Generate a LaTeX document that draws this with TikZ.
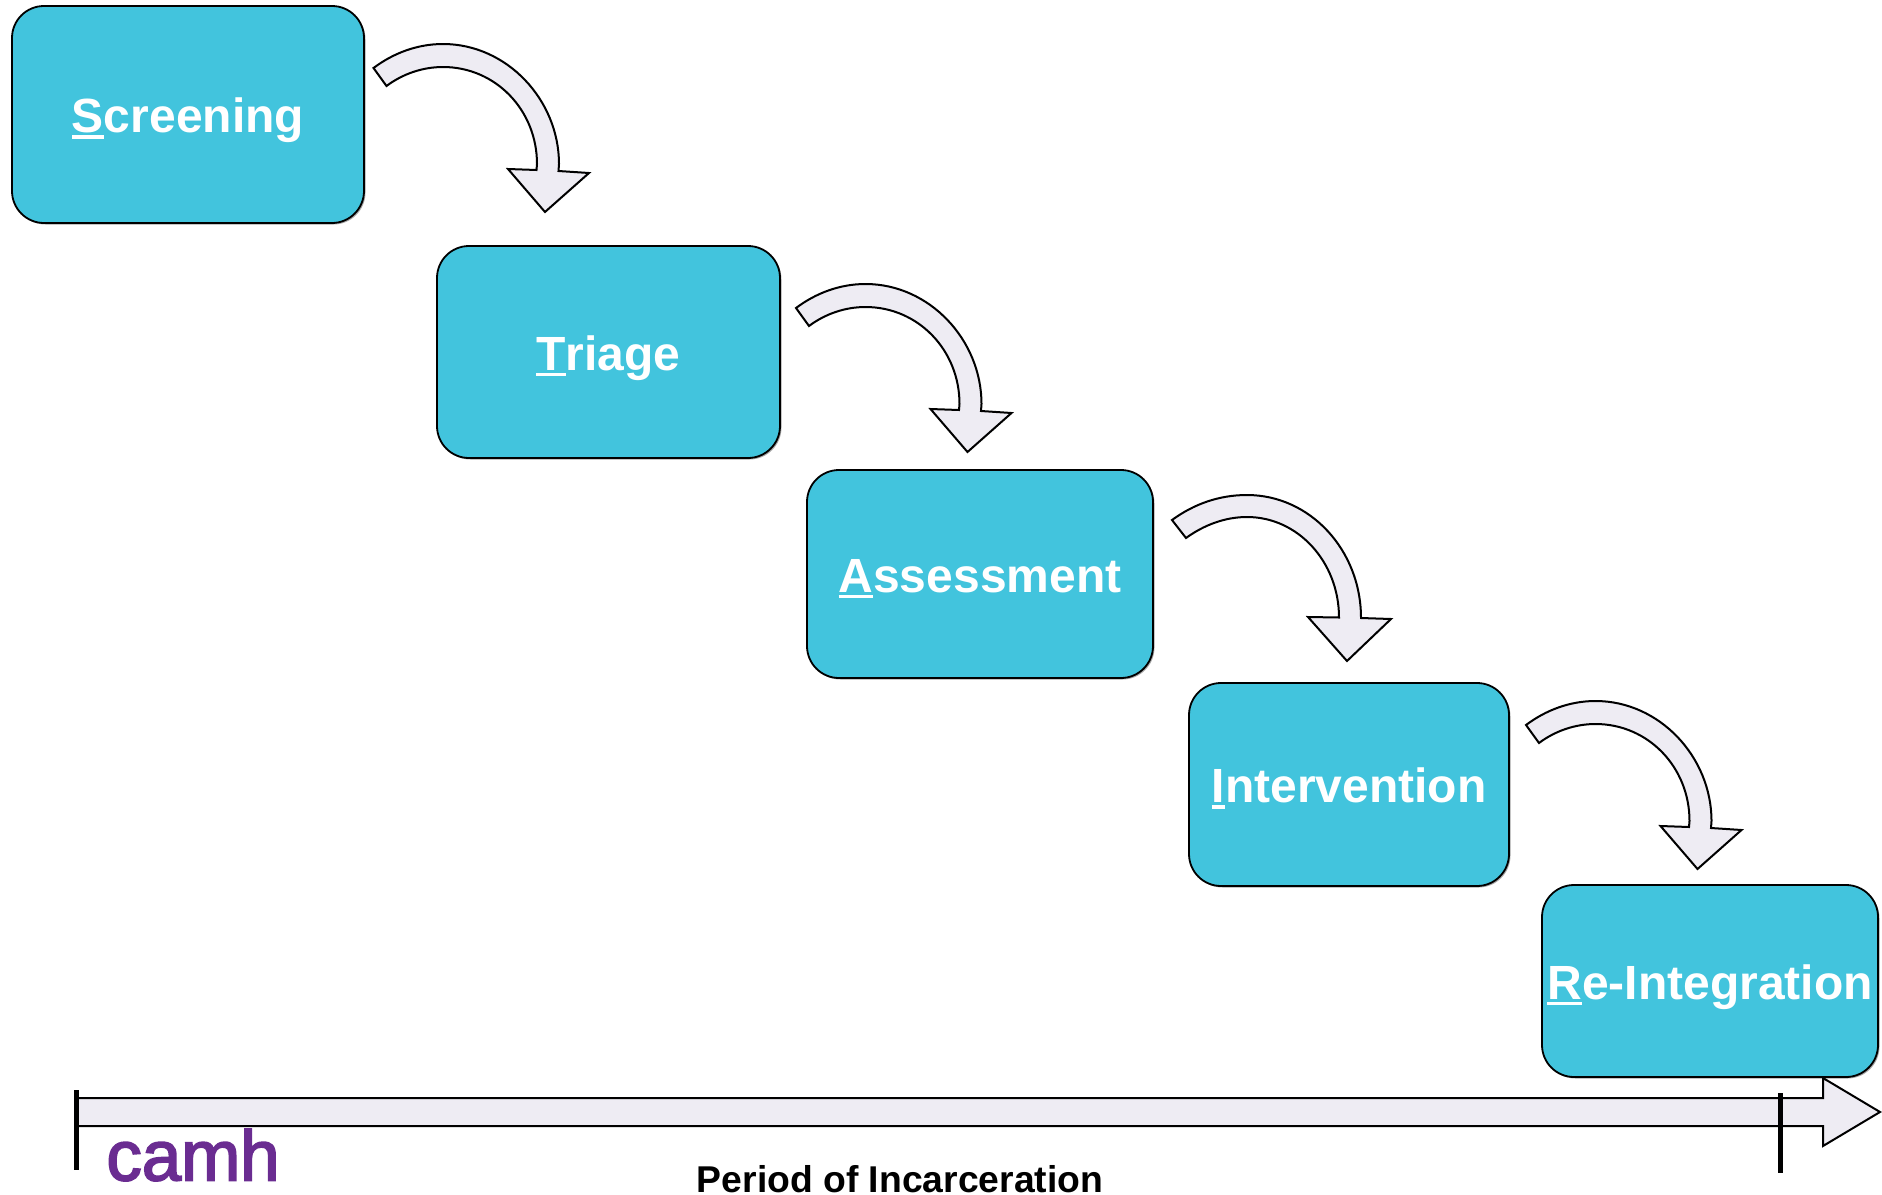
\documentclass[tikz,border=0pt]{standalone}
\usepackage{fontspec}
\setmainfont{Liberation Sans}
\newfontfamily\camhfont[FakeBold=2.5,LetterSpace=-0.2]{Liberation Sans}
\definecolor{boxteal}{HTML}{42C4DD}
\definecolor{arrowfill}{HTML}{EEECF3}
\definecolor{camhpurple}{HTML}{6A2C91}
\newsavebox{\firstbox}
\newlength{\firstwd}
\newcommand{\firstul}[1]{\sbox{\firstbox}{#1}\setlength{\firstwd}{\wd\firstbox}\rlap{\rule[-0.125em]{\firstwd}{0.07em}}\usebox{\firstbox}}
\newcommand{\stagelabel}[1]{\raisebox{-18pt}[0pt][0pt]{#1}}
\usetikzlibrary{shadows}
\tikzset{
  x=1pt,y=-1pt,
  stagebox/.style={draw=black,line width=1.8pt,fill=boxteal,rounded corners=32pt,inner sep=0pt,
    text=white,font=\fontsize{48}{48}\selectfont\bfseries,align=center,
    drop shadow={shadow xshift=1.5pt,shadow yshift=-1.5pt,fill=black!35,opacity=1}},
  blockarrow/.style={draw=black,line width=2pt,fill=arrowfill,line join=miter},
  curvearrow/.pic={
    \path[blockarrow] (0,0) .. controls (20,-15) and (44,-24) .. (69.5,-24)
      .. controls (133.5,-24) and (185.5,32) .. (185.5,96) -- (185,103)
      -- (215.5,105) -- (171.5,144) -- (134.5,101) -- (163,102) -- (163.5,96)
      .. controls (163.5,42) and (122,-1) .. (69.5,-1)
      .. controls (49,-1) and (29,6) .. (13,18) -- cycle;
  },
  curvearrowlow/.pic={
    \path[blockarrow] (0,0) .. controls (22,-16) and (47,-25) .. (75,-25)
      .. controls (138,-25) and (189,30) .. (189,98)
      -- (219,99) -- (175,141) -- (136,97) -- (167,97.5)
      .. controls (167,42) and (126,-3) .. (75,-3)
      .. controls (53,-3) and (32,5) .. (14,18) -- cycle;
  }
}
\begin{document}
\begin{tikzpicture}
\useasboundingbox (0,0) rectangle (1882,1194);
\node[stagebox,minimum width=352pt,minimum height=217pt] (screening) at (188,114.5) {\stagelabel{\firstul{S}creening}};
\node[stagebox,minimum width=343pt,minimum height=212pt] (triage) at (608.5,352) {\stagelabel{\firstul{T}riage}};
\node[stagebox,minimum width=346pt,minimum height=208pt] (assessment) at (980,574) {\stagelabel{\firstul{A}ssessment}};
\node[stagebox,minimum width=320pt,minimum height=203pt] (intervention) at (1349,784.5) {\stagelabel{\firstul{I}ntervention}};
\node[stagebox,minimum width=336pt,minimum height=192pt] (reintegration) at (1710,981) {\stagelabel{\firstul{R}e-Integration}};
\pic at (373.5,68) {curvearrow};
\pic at (796,308) {curvearrow};
\pic at (1172,520) {curvearrowlow};
\pic at (1526,725) {curvearrow};
\coordinate (axisstart) at (76,1098);
\coordinate (axistip) at (1880,1112);
\path[blockarrow] (axisstart) -- (1823,1098) -- (1823,1078) -- (axistip) -- (1823,1146) -- (1823,1126) -- (76,1126) -- cycle;
\node[text=camhpurple,font=\fontsize{71}{71}\camhfont,inner sep=0pt] (camh) at (193,1155) {camh};
\node[font=\fontsize{37.3}{37.3}\selectfont\bfseries,inner sep=0pt] (period) at (900,1179) {Period of Incarceration};
\coordinate (ts) at (76,1090); \coordinate (te) at (76,1170);
\draw[line width=5pt] (ts) -- (te);
\coordinate (us) at (1780,1093); \coordinate (ue) at (1780,1173);
\draw[line width=5pt] (us) -- (ue);
\end{tikzpicture}
\end{document}
